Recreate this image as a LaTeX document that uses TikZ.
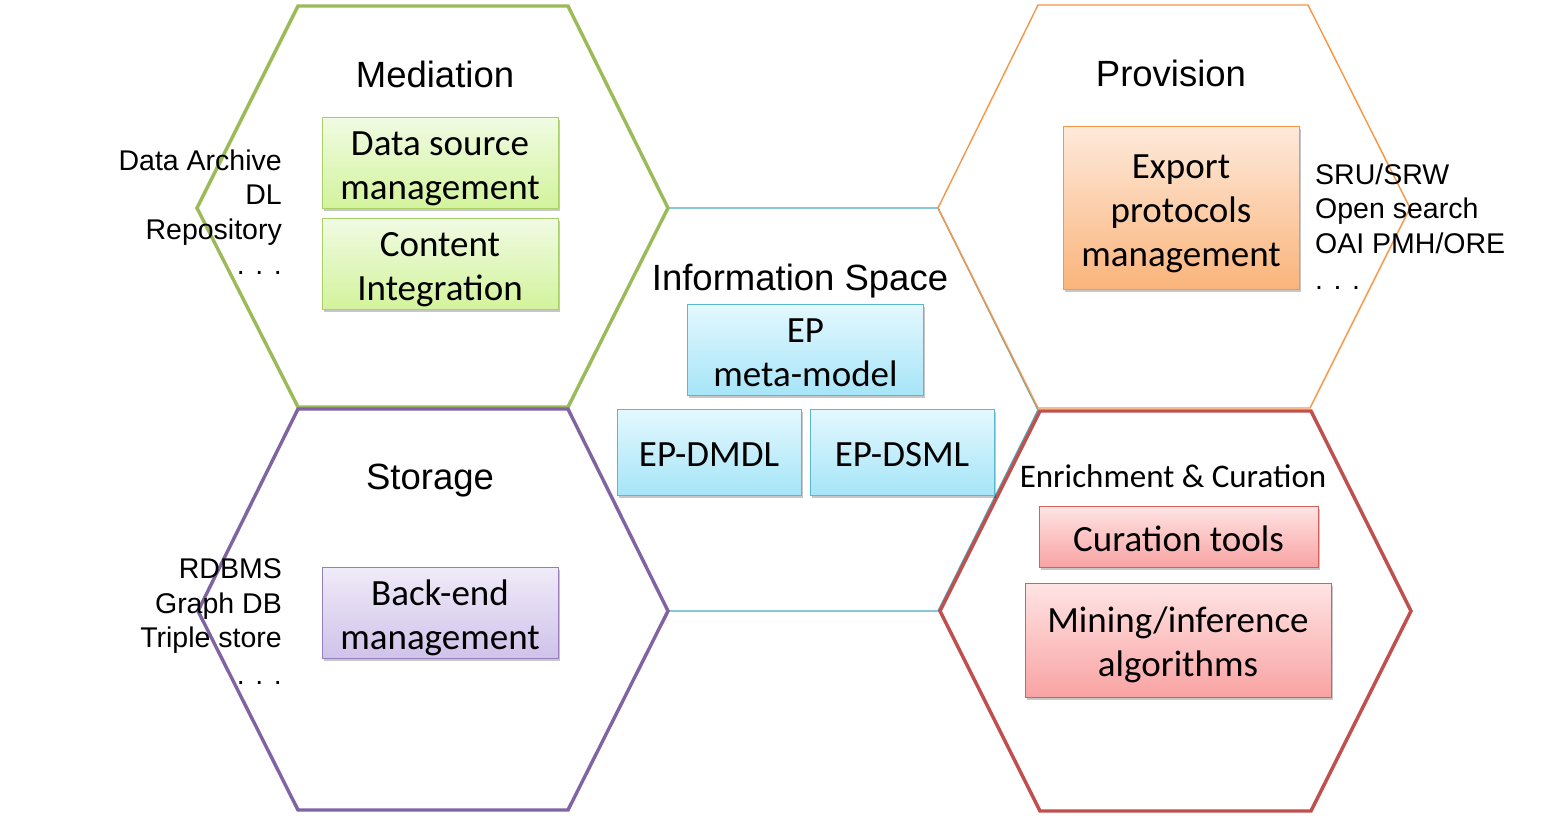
\documentclass[tikz,border=0pt]{standalone}
\usepackage{fontspec}
\setmainfont{Liberation Sans}
\newfontfamily\calfont{Carlito}
\usetikzlibrary{shadows}
\newcommand\boxtopstrut{\rule{0pt}{38pt}}
\newcommand\boxbotstrut{\rule[-9pt]{0pt}{9pt}}
\definecolor{hgreen}{HTML}{9BBB59}
\definecolor{hpurple}{HTML}{8064A2}
\definecolor{hred}{HTML}{C0504D}
\definecolor{hblue}{HTML}{4BACC6}
\definecolor{horange}{HTML}{F79646}
\definecolor{gtop}{HTML}{F0FBE3}
\definecolor{gbot}{HTML}{D3F39C}
\definecolor{gline}{HTML}{A8CF68}
\definecolor{btop}{HTML}{E4F8FE}
\definecolor{bbot}{HTML}{A6E5F8}
\definecolor{bline}{HTML}{5BB8D0}
\definecolor{otop}{HTML}{FEEADB}
\definecolor{obot}{HTML}{FAB47B}
\definecolor{oline}{HTML}{F79646}
\definecolor{rtop}{HTML}{FFE4E4}
\definecolor{rbot}{HTML}{F9A3A3}
\definecolor{rline}{HTML}{D2605D}
\definecolor{ptop}{HTML}{F0EBF8}
\definecolor{pbot}{HTML}{D0C2EA}
\definecolor{pline}{HTML}{9580BA}
\begin{document}
\begin{tikzpicture}[x=1pt,y=-1pt,
  thickhex/.style={line width=3.4pt, line join=miter},
  thinhex/.style={line width=1.4pt, line join=miter},
  box/.style={draw, line width=1pt, inner sep=0pt, align=center,
    font=\calfont\fontsize{37}{44}\selectfont,
    drop shadow={shadow xshift=1.5pt, shadow yshift=-2.5pt, fill=black, opacity=0.22}},
  greenbox/.style={box, draw=gline, top color=gtop, bottom color=gbot},
  bluebox/.style={box, draw=bline, top color=btop, bottom color=bbot},
  orangebox/.style={box, draw=oline, top color=otop, bottom color=obot},
  redbox/.style={box, draw=rline, top color=rtop, bottom color=rbot},
  purplebox/.style={box, draw=pline, top color=ptop, bottom color=pbot},
  hextitle/.style={font=\fontsize{36.5}{44}\selectfont, inner sep=0pt, anchor=base},
  sidel/.style={font=\fontsize{28.5}{34.5}\selectfont, inner sep=0pt, anchor=base east},
  sider/.style={font=\fontsize{28.5}{34.5}\selectfont, inner sep=0pt, anchor=base west}
]
\useasboundingbox[fill=white] (0,0) rectangle (1559,816);

% hexagons
\draw[thinhex, hblue] (668,208) -- (938,208) -- (1038,410) -- (938,611) -- (668,611) -- (568,409) -- cycle;
\draw[thinhex, horange] (1038,5) -- (1308,5) -- (1410,208) -- (1310,408) -- (1038,408) -- (938,208) -- cycle;
\draw[thickhex, hgreen] (298,6) -- (568,6) -- (668,208) -- (568,407) -- (298,407) -- (197,208) -- cycle;
\draw[thickhex, hpurple] (298,409) -- (568,409) -- (668,611) -- (568,810) -- (298,810) -- (198,611) -- cycle;
\draw[thickhex, hred] (1040,411) -- (1311,411) -- (1411,611) -- (1311,811) -- (1040,811) -- (940,611) -- cycle;

% titles
\node[hextitle] (tmed) at (435,88) {Mediation};
\node[hextitle] (tsto) at (430,489) {Storage};
\node[hextitle] (tinf) at (800,290) {Information Space};
\node[hextitle] (tpro) at (1171,87) {Provision};
\node[hextitle, font=\calfont\fontsize{33}{40}\selectfont] (tenr) at (1173,487) {Enrichment \& Curation};

% boxes
\node[greenbox, minimum width=236pt, minimum height=90pt] (dsm) at (440,162.5) {\boxtopstrut Data source\\management\boxbotstrut};
\node[greenbox, minimum width=236pt, minimum height=89pt] (ci) at (440,263.5) {\boxtopstrut Content\\Integration\boxbotstrut};
\node[purplebox, minimum width=236pt, minimum height=89pt] (bem) at (440,612.5) {\boxtopstrut Back-end\\management\boxbotstrut};
\node[bluebox, minimum width=236pt, minimum height=89pt] (epm) at (805.5,349.5) {\boxtopstrut EP\\meta-model\boxbotstrut};
\node[bluebox, minimum width=184pt, minimum height=86pt] (dmdl) at (709,452) {\boxtopstrut EP-DMDL\boxbotstrut};
\node[bluebox, minimum width=184pt, minimum height=86pt] (dsml) at (902,452) {\boxtopstrut EP-DSML\boxbotstrut};
\node[orangebox, minimum width=236pt, minimum height=163pt] (epr) at (1181,207.5) {\boxtopstrut Export\\protocols\\management\boxbotstrut};
\node[redbox, minimum width=279pt, minimum height=61pt] (cur) at (1178.5,536.5) {\boxtopstrut Curation tools\boxbotstrut};
\node[redbox, minimum width=306pt, minimum height=114pt] (min) at (1178,640) {\boxtopstrut Mining/inference\\algorithms\boxbotstrut};

% side labels
\node[sidel] (m1) at (282,170) {Data Archive};
\node[sidel] (m2) at (282,204) {DL};
\node[sidel] (m3) at (282,239) {Repository};
\node[sidel] (m4) at (282,274) {. . .};
\node[sidel] (s1) at (282,578) {RDBMS};
\node[sidel] (s2) at (282,613) {Graph DB};
\node[sidel] (s3) at (282,647) {Triple store};
\node[sidel] (s4) at (282,684) {. . .};
\node[sider] (p1) at (1315,184) {SRU/SRW};
\node[sider] (p2) at (1315,218) {Open search};
\node[sider] (p3) at (1315,253) {OAI PMH/ORE};
\node[sider] (p4) at (1315,289) {. . .};
\end{tikzpicture}
\end{document}
